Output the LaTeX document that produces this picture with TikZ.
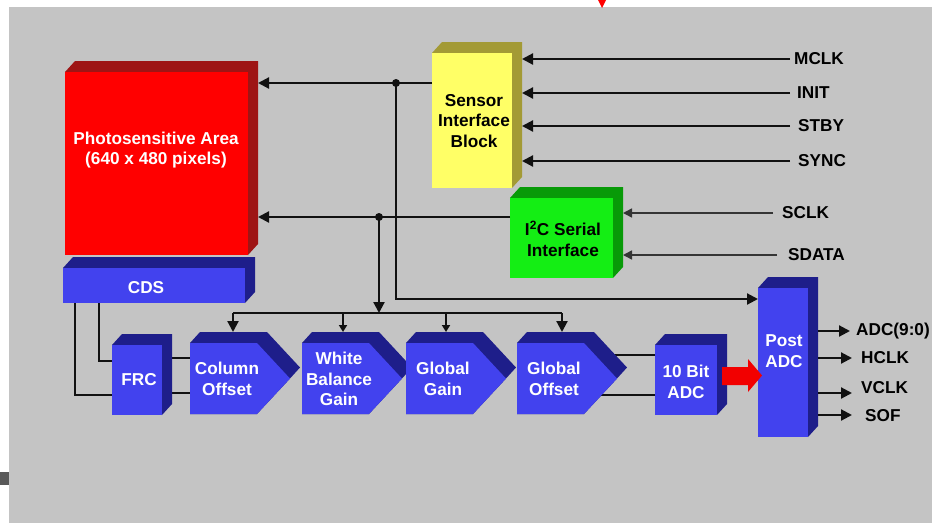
\documentclass[tikz,border=0pt]{standalone}
\usepackage{fontspec}
\setmainfont{Liberation Sans}
\usetikzlibrary{arrows.meta,calc}
\definecolor{bggray}{HTML}{C4C4C4}
\definecolor{redfr}{HTML}{FF0000}
\definecolor{reddk}{HTML}{9E1515}
\definecolor{bluefr}{HTML}{4242EE}
\definecolor{bluedk}{HTML}{1E1E8A}
\definecolor{yelfr}{HTML}{FFFF66}
\definecolor{yeldk}{HTML}{A39A35}
\definecolor{grnfr}{HTML}{14EE14}
\definecolor{grndk}{HTML}{089A08}
\definecolor{linec}{HTML}{111111}
\pgfdeclarelayer{back}
\pgfdeclarelayer{conn}
\pgfdeclarelayer{sides}
\pgfsetlayers{back,conn,sides,main}
\tikzset{
  box/.style={draw=none,inner sep=0pt,outer sep=0pt},
  lbl/.style={font=\bfseries\fontsize{17.2}{20.8}\selectfont,align=center,inner sep=1pt},
  wlbl/.style={lbl,text=white},
  io/.style={font=\bfseries\fontsize{17.2}{20.8}\selectfont,inner sep=1pt,anchor=west},
  wire/.style={line width=2.2pt,draw=linec},
  arr/.style={wire,-{Triangle[length=11pt,width=11pt]}},
  sarr/.style={wire,-{Triangle[length=7pt,width=8pt]}},
  tarr/.style={line width=1.5pt,draw=linec!85,-{Triangle[length=9pt,width=9pt]}},
  dot/.style={circle,fill=linec,inner sep=0pt,minimum size=8pt}
}
% #1 name, #2 x1, #3 y1, #4 x2, #5 y2, #6 front, #7 dark
\newcommand\cubebox[7]{%
  \node[box,fill=#6,minimum width={(#4-#2)*1pt},minimum height={(#5-#3)*1pt}] (#1) at ({(#2+#4)/2},{(#3+#5)/2}) {};
  \begin{pgfonlayer}{sides}
    \fill[#7] (#1.north west) -- ++(10,-11) -| ($(#1.south east)+(10,-11)$) -- (#1.south east) -- cycle;
  \end{pgfonlayer}}
% #1 name, #2 left x, #3 text
\newcommand\pentbox[3]{%
  \fill[bluedk] (#2,414) -- (#2,343) -- ({#2+10},332) -- ({#2+77},332) -- ({#2+110},367.5) -- ({#2+100},378.5) -- ({#2+67},414) -- cycle;
  \fill[bluefr] (#2,414) -- (#2,343) -- ({#2+67},343) -- ({#2+100},378.5) -- ({#2+67},414) -- cycle;
  \node[wlbl] (#1) at ({#2+37},379) {#3};}
\begin{document}
\begin{tikzpicture}[x=1pt,y=-1pt]
\useasboundingbox (0,0) rectangle (932,523);
\begin{pgfonlayer}{back}
  \fill[white] (0,0) rectangle (932,523);
  \fill[bggray] (9,7) rectangle (932,523);
  \fill[black!65] (0,472) rectangle (9,485);
  \fill[red] (598,0) -- (606,0) -- (602,8) -- cycle;
\end{pgfonlayer}

% blocks
\cubebox{photo}{65}{72}{248}{255}{redfr}{reddk}
\node[wlbl] (phototxt) at (156,150) {Photosensitive Area\\(640 x 480 pixels)};
\cubebox{cds}{63}{268}{245}{303}{bluefr}{bluedk}
\node[wlbl] (cdstxt) at (146,288) {CDS};
\cubebox{frc}{112}{345}{162}{415}{bluefr}{bluedk}
\node[wlbl] (frctxt) at (139,380) {FRC};
\cubebox{adc}{655}{345}{717}{415}{bluefr}{bluedk}
\node[wlbl] (adctxt) at (686,382) {10 Bit\\ADC};
\cubebox{post}{758}{288}{808}{437}{bluefr}{bluedk}
\node[wlbl] (posttxt) at (784,351) {Post\\ADC};
\cubebox{sib}{432}{53}{512}{188}{yelfr}{yeldk}
\node[lbl] (sibtxt) at (474,121) {Sensor\\Interface\\Block};
\cubebox{i2c}{510}{198}{613}{278}{grnfr}{grndk}
\node[lbl] (i2ctxt) at (563,239) {I\textsuperscript{2}C Serial\\Interface};

\pentbox{co}{190}{Column\\Offset}
\pentbox{wb}{302}{White\\Balance\\Gain}
\pentbox{gg}{406}{Global\\Gain}
\pentbox{go}{517}{Global\\Offset}

% red block arrow
\fill[red!95!black] (722,367) -- (748,367) -- (748,359) -- (762,375.5) -- (748,392) -- (748,385) -- (722,385) -- cycle;

% connectors
\coordinate (dotA) at (396,83);
\coordinate (dotB) at (379,217);
\coordinate (busL) at (233,313);
\coordinate (busR) at (562,313);
\draw[arr] (sib.west |- dotA) -- ([xshift=10pt]photo.east |- dotA);
\draw[arr] (dotA) |- (post.west |- 0,299);
\draw[arr] (i2c.west |- dotB) -- ([xshift=10pt]photo.east |- dotB);
\draw[arr] (dotB) -- (dotB |- busL);
\node[dot] (dA) at (dotA) {};
\node[dot] (dB) at (dotB) {};
\draw[wire] (busL) -- (busR);
\draw[arr] (busL) -- (233,332);
\draw[sarr] (343,313) -- (343,332);
\draw[sarr] (446,313) -- (446,332);
\draw[arr] (busR) -- (562,332);

\begin{pgfonlayer}{conn}
  \draw[wire] ([xshift=12pt]cds.south west) |- (frc.west |- 0,395);
  \draw[wire] ([xshift=36pt]cds.south west) |- (frc.west |- 0,361);
  \draw[wire] (frc.east |- 0,358) -- (195,358);
  \draw[wire] (frc.east |- 0,393) -- (195,393);
  \draw[wire] (590,355) -- (adc.west |- 0,355);
  \draw[wire] (590,395) -- (adc.west |- 0,395);
\end{pgfonlayer}

% inputs
\node[io] (mclk) at (793,59) {MCLK};
\node[io] (init) at (796,93) {INIT};
\node[io] (stby) at (797,126) {STBY};
\node[io] (sync) at (797,161) {SYNC};
\node[io] (sclk) at (781,213) {SCLK};
\node[io] (sdata) at (787,255) {SDATA};
\foreach \s in {mclk,init,stby,sync}
  \draw[arr] (790,0 |- \s.west) -- ([xshift=10pt]sib.east |- \s.west);
\draw[tarr] (773,0 |- sclk.west) -- ([xshift=10pt]i2c.east |- sclk.west);
\draw[tarr] (777,0 |- sdata.west) -- ([xshift=10pt]i2c.east |- sdata.west);

% outputs
\node[io] (o1) at (855,331) {ADC(9:0)};
\node[io] (o2) at (860,358) {HCLK};
\node[io] (o3) at (860,388) {VCLK};
\node[io] (o4) at (864,416) {SOF};
\draw[arr] ([xshift=10pt]post.east |- 0,331) -- (850,331);
\draw[arr] ([xshift=10pt]post.east |- 0,358) -- (852,358);
\draw[arr] ([xshift=10pt]post.east |- 0,393) -- (852,393);
\draw[arr] ([xshift=10pt]post.east |- 0,415) -- (852,415);
\end{tikzpicture}
\end{document}
